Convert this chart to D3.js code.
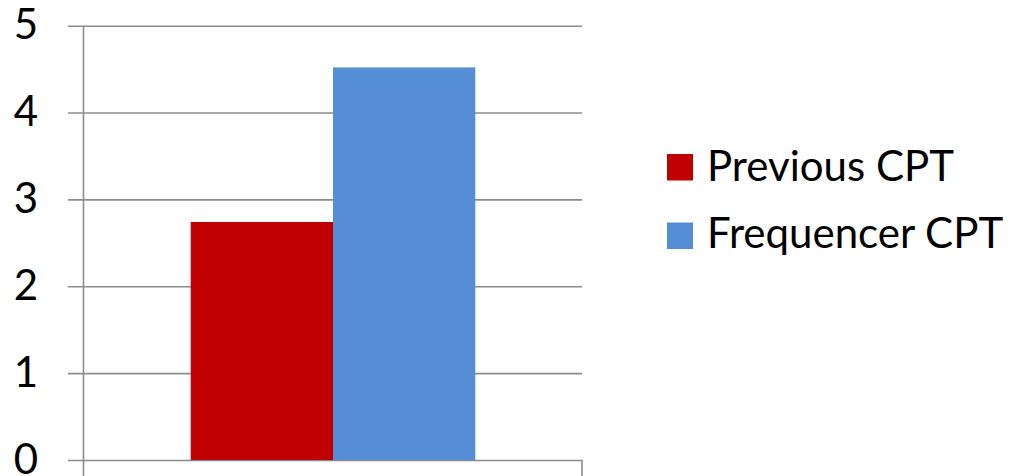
<!DOCTYPE html>
<html>
<head>
<meta charset="utf-8">
<script src="https://cdn.jsdelivr.net/npm/d3@7"></script>
<style>
  html, body { margin: 0; padding: 0; background: #fff; }
  svg { display: block; }
  text { font-family: Lato, "Open Sans", sans-serif; fill: #000; }
</style>
</head>
<body>
<svg id="chart" width="1023" height="476"></svg>
<script>
// Chart data
const seriesNames = ["Previous CPT", "Frequencer CPT"];
const seriesValues = [2.74, 4.52];
const seriesColors = ["#c00000", "#558ed5"];
const yTicks = [0, 1, 2, 3, 4, 5];

const svg = d3.select("#chart");
const plot = { left: 84, right: 582, top: 25.7, bottom: 460 };

const y = d3.scaleLinear().domain([0, 5]).range([plot.bottom, plot.top]);
const x = d3.scaleBand()
  .domain(seriesNames)
  .range([plot.left, plot.right])
  .paddingInner(0)
  .paddingOuter(0.75);

// Horizontal gridlines with tick stubs on the left
const yAxis = d3.axisLeft(y)
  .tickValues(yTicks)
  .tickSize(-(plot.right - plot.left) - 16)
  .tickPadding(0)
  .tickFormat(d3.format("d"));

const gy = svg.append("g")
  .attr("transform", `translate(${plot.right},0)`)
  .call(yAxis);
gy.select(".domain").remove();
gy.selectAll(".tick line")
  .attr("x1", 0)
  .attr("x2", -(plot.right - plot.left) - 16)
  .attr("stroke", "#8c8c8c")
  .attr("stroke-width", 1.6);
gy.selectAll(".tick text").remove();

// Tick labels
svg.append("g").selectAll("text")
  .data(yTicks)
  .join("text")
  .attr("x", 38)
  .attr("y", d => y(d) + 13.5)
  .attr("text-anchor", "end")
  .style("font-size", "42px")
  .text(d => d);

// Vertical value axis line
svg.append("line")
  .attr("x1", plot.left - 0.5).attr("x2", plot.left - 0.5)
  .attr("y1", plot.top).attr("y2", 476)
  .attr("stroke", "#8c8c8c").attr("stroke-width", 1.6);

// Category axis tick at the right end
svg.append("line")
  .attr("x1", plot.right).attr("x2", plot.right)
  .attr("y1", plot.bottom).attr("y2", 476)
  .attr("stroke", "#8c8c8c").attr("stroke-width", 1.6);

// Bars
svg.append("g").selectAll("rect")
  .data(seriesValues)
  .join("rect")
  .attr("x", (d, i) => x(seriesNames[i]))
  .attr("width", x.bandwidth())
  .attr("y", d => y(d))
  .attr("height", d => y(0) - y(d))
  .attr("fill", (d, i) => seriesColors[i]);

// Legend
const legend = svg.append("g");
const legendRows = seriesNames.map((n, i) => ({ name: n, color: seriesColors[i] }));
legend.selectAll("rect")
  .data(legendRows)
  .join("rect")
  .attr("x", 667)
  .attr("y", (d, i) => 154 + i * 68.5)
  .attr("width", 26)
  .attr("height", 26.5)
  .attr("fill", d => d.color);
legend.selectAll("text")
  .data(legendRows)
  .join("text")
  .attr("x", 707)
  .attr("y", (d, i) => 181 + i * 67)
  .style("font-size", "42px")
  .text(d => d.name);
</script>
</body>
</html>
